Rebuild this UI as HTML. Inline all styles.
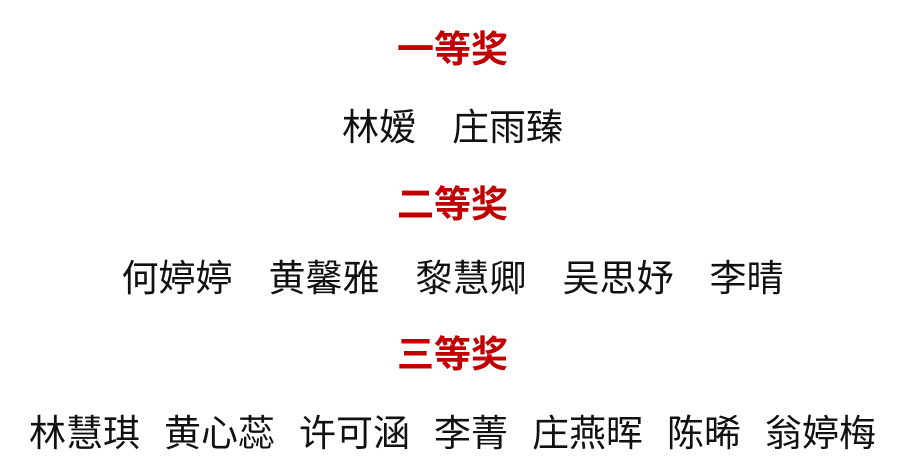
<!DOCTYPE html>
<html><head><meta charset="utf-8"><style>
html,body{margin:0;padding:0;background:#fff;width:905px;height:459px;overflow:hidden;}
.l{position:absolute;left:0;width:905px;text-align:center;font-family:"Liberation Sans","Noto Sans CJK SC",sans-serif;font-size:37px;line-height:44px;white-space:pre;color:#111;}
.h{color:#c00000;font-weight:bold;}
.g1{display:inline-block;width:36px}
.g2{display:inline-block;width:24px}
</style></head><body>
<div class="l h" style="top:28px">一等奖</div>
<div class="l" style="top:106px">林嫒<span class="g1"></span>庄雨臻</div>
<div class="l h" style="top:183px">二等奖</div>
<div class="l" style="top:257px">何婷婷<span class="g1"></span>黄馨雅<span class="g1"></span>黎慧卿<span class="g1"></span>吴思妤<span class="g1"></span>李晴</div>
<div class="l h" style="top:333px">三等奖</div>
<div class="l" style="top:412px">林慧琪<span class="g2"></span>黄心蕊<span class="g2"></span>许可涵<span class="g2"></span>李菁<span class="g2"></span>庄燕晖<span class="g2"></span>陈晞<span class="g2"></span>翁婷梅</div>
</body></html>
